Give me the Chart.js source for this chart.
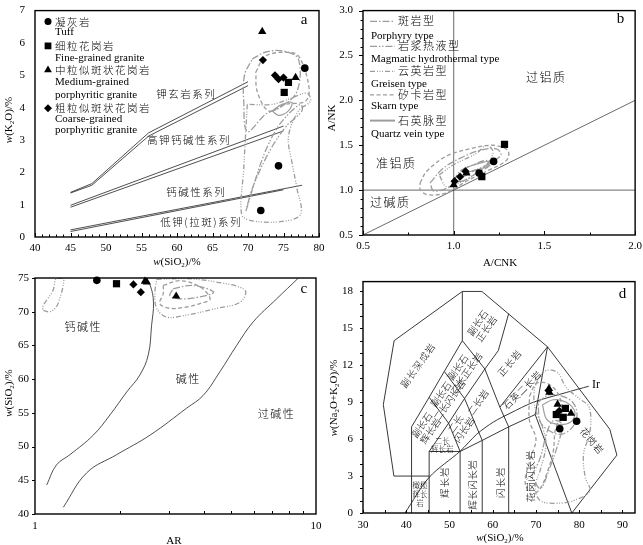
<!DOCTYPE html>
<html>
<head>
<meta charset="utf-8">
<title>granite geochemistry diagrams</title>
<script src="https://cdn.jsdelivr.net/npm/chart.js@4.4.1/dist/chart.umd.min.js"></script>
<style>
  html, body { margin: 0; padding: 0; background: #fff; }
  body { position: relative; width: 643px; height: 545px; overflow: hidden; }
  canvas { position: absolute; }
</style>
</head>
<body>
<canvas id="chartA" width="330" height="276" style="left:0;top:-6px"></canvas>
<canvas id="chartC" width="330" height="280" style="left:0;top:265px"></canvas>
<canvas id="chartB" width="325" height="276" style="left:322px;top:-6px"></canvas>
<canvas id="chartD" width="325" height="280" style="left:322px;top:265px"></canvas>
<script>
const SERIF = '"Liberation Serif", "Times New Roman", serif';
const CJK = '"Noto Sans CJK SC", "Liberation Serif", sans-serif';
const FIELD = '#9d9d9d';
const dashPorphyry = [7, 2, 1.5, 2];
const dashMagma = [7, 2, 1.5, 1.5, 1.5, 2];
const dashGreisen = [5, 2, 1, 1.5, 1, 1.5, 1, 2];
const dashSkarn = [4, 2.5];

// ---- a: w(SiO2) vs w(K2O)
const aTicksX = [40, 45, 50, 55, 60, 65, 70, 75, 80];
const aTicksY = [0, 1, 2, 3, 4, 5, 6, 7];
const aTuff = [[71.8, 0.82], [74.3, 2.2], [78.0, 5.22]];
const aFine = [[75.1, 4.47], [75.7, 4.78]];
const aMedium = [[72.0, 6.35], [76.7, 4.93]];
const aCoarse = [[72.1, 5.47], [73.8, 5.0], [74.3, 4.88], [75.0, 4.93]];
const aShoUp = [[45, 1.38], [48, 1.65], [56, 3.22], [70, 4.8]];
const aShoLo = [[45, 1.36], [48, 1.6], [56, 3.12], [70, 4.68]];
const aHkUp = [[45, 0.98], [75, 3.43]];
const aHkLo = [[45, 0.92], [75, 3.28]];
const aCaUp = [[45, 0.22], [77.6, 1.6]];
const aCaLo = [[45, 0.17], [75, 1.46]];
const aPorphyry = [[70.6, 5.5], [72.5, 5.72], [75, 5.75], [77.1, 5.5], [76.9, 4.5], [74.5, 4.0], [72.5, 3.8], [69.9, 3.26], [69.4, 4.2], [69.5, 5.0], [70.6, 5.5]];
const aSkarn = [[71.1, 5.1], [72.5, 5.6], [76.2, 5.7], [77.4, 5.5], [78.6, 4.6], [78.1, 4.2], [75.3, 4.1], [72.9, 3.9], [71.3, 4.5], [71.1, 5.1]];
const aGreisen = [[69.9, 4.1], [69.4, 2.1], [69.1, 0.7], [70.6, 0.5], [74.8, 0.48], [77.4, 0.7], [76.9, 1.5], [76.2, 2.3], [75.7, 3.1], [77.1, 3.9], [78.8, 4.2], [78.3, 4.45], [76.2, 4.3], [73.4, 4.1], [69.9, 4.1]];
const aMagma = [[69.7, 0.8], [72.0, 2.4], [73.9, 3.3], [75.7, 3.8], [77.4, 4.1], [77.6, 3.9], [75.3, 3.4], [72.9, 2.6], [70.6, 1.5], [69.7, 0.8]];
const aQuartz = [[73.4, 3.9], [74.8, 4.1], [76.2, 4.16], [75.7, 3.9], [74.3, 3.76], [73.4, 3.9]];

// ---- b: A/CNK vs A/NK
const bTicksX = [0.5, 1.0, 1.5, 2.0];
const bTicksY = [0.5, 1.0, 1.5, 2.0, 2.5, 3.0];
const bTuff = [[1.22, 1.32], [1.14, 1.19]];
const bFine = [[1.28, 1.51], [1.155, 1.15]];
const bMedium = [[1.0, 1.06], [1.07, 1.19]];
const bCoarse = [[1.005, 1.10], [1.035, 1.15], [1.065, 1.21]];
const bVert = [[1.0, 0.5], [1.0, 3.0]];
const bHoriz = [[0.5, 1.0], [2.0, 1.0]];
const bDiag = [[0.5, 0.5], [2.0, 2.0]];
const bSkarn = [[0.815, 1.08], [0.851, 1.21], [0.961, 1.38], [1.089, 1.46], [1.217, 1.50], [1.299, 1.44], [1.29, 1.33], [1.18, 1.21], [1.07, 1.10], [0.961, 0.97], [0.851, 0.95], [0.815, 1.01], [0.815, 1.08]];
const bPorphyry = [[0.87, 1.08], [0.94, 1.24], [1.03, 1.35], [1.14, 1.44], [1.235, 1.46], [1.26, 1.39], [1.18, 1.28], [1.07, 1.17], [0.98, 1.04], [0.89, 0.99], [0.87, 1.08]];
const bGreisen = [[0.92, 1.17], [0.997, 1.28], [1.126, 1.41], [1.18, 1.50], [1.217, 1.42], [1.16, 1.24], [1.05, 1.10], [0.96, 1.04], [0.92, 1.17]];
const bMagma = [[1.0, 1.10], [1.034, 1.21], [1.107, 1.28], [1.18, 1.33], [1.2, 1.28], [1.126, 1.19], [1.05, 1.10], [1.0, 1.10]];
const bQuartz = [[1.04, 1.22], [1.08, 1.26], [1.144, 1.30], [1.2, 1.32], [1.18, 1.26], [1.11, 1.22], [1.06, 1.19], [1.04, 1.22]];

// ---- c: AR vs w(SiO2)
const cTicksX = [1, 10];
const cTicksY = [40, 45, 50, 55, 60, 65, 70, 75];
const cTuff = [[1.66, 74.65]];
const cFine = [[1.95, 74.15]];
const cMedium = [[2.46, 74.5], [2.5, 74.4], [3.18, 72.3]];
const cCoarse = [[2.24, 74.05], [2.38, 72.9]];
const cCalcAlk = [[1.10, 44.3], [1.194, 47.3], [1.332, 48.8], [1.613, 51.7], [1.849, 54.7], [2.12, 58.1], [2.36, 60.6], [2.53, 63.6], [2.60, 68.0], [2.64, 71.4], [2.57, 73.9], [2.46, 75]];
const cAlk = [[1.261, 41.0], [1.527, 46.1], [1.953, 48.8], [2.567, 51.7], [3.465, 55.7], [3.97, 57.6], [4.55, 61.1], [5.22, 65.0], [5.98, 68.5], [7.24, 71.9], [8.66, 75.0]];
const cGreisenL = [[1.07, 70.2], [1.13, 70.0], [1.19, 70.7], [1.23, 72.2], [1.26, 73.9], [1.26, 74.9], [1.19, 74.9], [1.16, 73.2], [1.10, 71.7], [1.065, 70.7], [1.07, 70.2]];
const cSkarn = [[2.86, 73.9], [3.28, 74.6], [3.86, 73.7], [4.2, 71.9], [3.86, 71.2], [3.46, 70.7], [3.02, 70.5], [2.78, 71.2], [2.86, 72.7], [2.86, 73.9]];
const cGreisen = [[2.71, 74.8], [3.46, 74.9], [4.43, 74.4], [5.59, 73.2], [5.37, 71.4], [4.43, 70.5], [3.46, 69.5], [2.94, 69.2], [2.71, 70.5], [2.67, 72.7], [2.71, 74.8]];
const cPorphyry = [[3.1, 73.4], [3.65, 73.9], [4.32, 72.9], [3.86, 72.2], [3.28, 71.9], [3.02, 72.4], [3.1, 73.4]];

// ---- d: TAS, w(SiO2) vs w(Na2O+K2O)
const dTicksX = [30, 40, 50, 60, 70, 80, 90];
const dTicksY = [0, 3, 6, 9, 12, 15, 18];
const dTuff = [[79.4, 7.45], [75.5, 6.84]];
const dFine = [[76.8, 8.5], [74.7, 8.0], [76.3, 7.77]];
const dMedium = [[73.0, 10.1], [73.1, 9.8], [75.0, 8.83], [78.1, 8.1]];
const dCoarse = [[72.9, 9.95], [75.4, 8.3]];
const tasOuter = [[41.23, 3], [37.15, 3], [34.7, 8.8], [37.2, 14], [52.97, 18], [57.5, 18], [72.68, 13.5], [87.07, 6.8], [88.71, 4.7], [78.29, 0]];
const tasV41 = [[41.23, 0], [41.23, 7]];
const tasH3 = [[41.23, 3], [45.3, 3]];
const tasFoidLeft = [[41.23, 7], [45.3, 9.4], [48.8, 11.5], [52.97, 14], [52.97, 18]];
const tasFoidRight = [[45.3, 5], [49.8, 7.3], [53.48, 9.3], [58.18, 11.7], [61.3, 13.2], [63.69, 16.2]];
const tasCross1 = [[45.3, 9.4], [49.8, 7.3]];
const tasCross2 = [[48.8, 11.5], [53.48, 9.3]];
const tasCross3 = [[52.97, 14], [58.18, 11.7]];
const tasV45 = [[45.3, 0], [45.3, 5]];
const tasGabbroTop = [[45.3, 5], [52.46, 5]];
const tasV52 = [[52.46, 0], [52.46, 5]];
const tasMonzoBase = [[52.46, 5], [57.57, 5.9], [63.69, 7], [69.82, 8]];
const tasV57 = [[57.57, 0], [57.57, 5.9]];
const tasV63 = [[63.69, 0], [63.69, 7]];
const tasMz1 = [[49.8, 7.3], [52.46, 5]];
const tasMz2 = [[53.48, 9.3], [57.57, 5.9]];
const tasMz3 = [[58.18, 11.7], [61.65, 8.6], [63.69, 7]];
const tasQm = [[61.65, 8.6], [72.68, 13.5]];
const tasGr = [[69.82, 8], [72.68, 13.5]];
const tasGd = [[69.82, 8], [78.29, 0]];
const tasIr = [[39.7, 0], [45.3, 2.9], [52.4, 5.0], [56.3, 6.4], [60.2, 7.4], [64, 8.1], [69.4, 9.0], [77.1, 9.8], [82.2, 10.3]];
const dGreisen = [[70.6, 11.0], [72.5, 11.6], [75, 11.4], [77, 10.2], [80, 9.3], [82.3, 8.6], [82.5, 6.6], [81, 4.8], [81.4, 2.9], [82.5, 1.8], [79.4, 1.1], [75.6, 0.8], [71, 1.0], [69.8, 2.1], [71, 3.5], [72.3, 5.5], [71.5, 7], [69.8, 8.5], [69.6, 10], [70.6, 11.0]];
const dSkarn = [[68.5, 9.5], [70, 10.5], [72, 10.6], [74, 10.2], [75.5, 9.4], [76, 8.2], [74.5, 6.8], [74, 5.0], [72.8, 3.5], [71, 2.0], [69, 1.5], [67.5, 2.5], [68.8, 4.5], [70, 6], [68.5, 7.5], [68.5, 9.5]];
const dPorphyry = [[70.5, 9.0], [73, 9.6], [76, 9.5], [78.5, 9.0], [79.5, 8.0], [78.5, 7.0], [76, 6.4], [73.5, 6.6], [71, 7.4], [70.5, 9.0]];
const dMagma = [[69, 3.0], [71, 4.5], [72.5, 6.5], [74, 7.5], [76, 7.2], [75, 5.5], [73, 3.5], [71, 2.0], [69, 3.0]];
const dQuartz = [[71.5, 8.8], [74, 9.2], [77, 9.0], [79, 8.2], [78, 7.4], [75, 7.2], [72.5, 7.6], [71.5, 8.8]];

function P(arr) { return arr.map(function (p) { return { x: p[0], y: p[1] }; }); }

function markers(arr, style, r) {
  return { data: P(arr), pointStyle: style, pointRadius: r, pointHoverRadius: r, backgroundColor: '#000',
    borderColor: '#000', borderWidth: 0, showLine: false, order: 0, clip: false };
}
function path(arr, o) {
  o = o || {};
  return { data: P(arr), showLine: true, pointRadius: 0, pointHoverRadius: 0, fill: false,
    borderColor: o.color || '#222', borderWidth: o.width || 0.9, borderDash: o.dash || [],
    tension: o.tension || 0, order: o.order || 2 };
}
function field(arr, dash, width) {
  return path(arr, { color: FIELD, width: width || 1.3, dash: dash, tension: 0.35, order: 1 });
}
function samples(tuff, fine, medium, coarse) {
  return [markers(tuff, 'circle', 3.8), markers(fine, 'rect', 5.1), markers(medium, 'triangle', 4.8), markers(coarse, 'rectRot', 4.1)];
}

function axis(o) {
  return {
    type: o.type || 'linear', min: o.min, max: o.max, position: o.pos,
    grid: { display: false, drawTicks: false }, border: { display: false },
    afterBuildTicks: function (ax) { ax.ticks = o.ticks.map(function (v) { return { value: v }; }); },
    afterFit: function (ax) { if (o.pos === 'left') ax.width = o.size; else ax.height = o.size; },
    ticks: { color: '#000', font: { family: SERIF, size: 11 }, padding: o.padding, maxRotation: 0, autoSkip: false,
      callback: o.fmt || function (v) { return String(v); } }
  };
}

function build(id, sx, sy, pad, datasets, deco) {
  return new Chart(document.getElementById(id), {
    type: 'scatter',
    data: { datasets: datasets },
    options: {
      responsive: false, animation: false, events: [],
      layout: { padding: pad },
      plugins: { legend: { display: false }, tooltip: { enabled: false } },
      scales: { x: sx, y: sy }
    },
    plugins: [{ id: 'deco', afterDatasetsDraw: function (chart) { deco(chart, chart.ctx); } }]
  });
}

// ---- drawing helpers
function px(chart, x, y) { return [chart.scales.x.getPixelForValue(x), chart.scales.y.getPixelForValue(y)]; }

function text(ctx, x, y, str, o) {
  o = o || {};
  const size = o.size || 11;
  const isCjk = !o.font;
  ctx.save();
  ctx.translate(x, y);
  if (o.rot) ctx.rotate(o.rot * Math.PI / 180);
  ctx.font = (isCjk ? '300 ' : '') + size + 'px ' + (o.font || CJK);
  ctx.letterSpacing = (o.ls || 0) + 'px';
  ctx.fillStyle = '#000';
  ctx.textAlign = o.align || 'center';
  ctx.textBaseline = 'middle';
  const lines = str.split('\n');
  const lh = o.lh || size * 1.1;
  lines.forEach(function (ln, i) { ctx.fillText(ln, 0, (i - (lines.length - 1) / 2) * lh); });
  ctx.restore();
}
function note(chart, x, y, str, o) {
  const p = px(chart, x, y);
  text(chart.ctx, p[0], p[1], str, o);
}

function rich(ctx, parts, cx, cy, rot, size) {
  const fonts = { n: size + 'px ' + SERIF, i: 'italic ' + size + 'px ' + SERIF, s: Math.round(size * 0.68) + 'px ' + SERIF };
  ctx.save();
  ctx.translate(cx, cy);
  if (rot) ctx.rotate(rot);
  let w = 0;
  parts.forEach(function (p) { ctx.font = fonts[p[1]]; w += ctx.measureText(p[0]).width; });
  let x = -w / 2;
  ctx.fillStyle = '#000';
  ctx.textAlign = 'left';
  ctx.textBaseline = 'alphabetic';
  parts.forEach(function (p) {
    ctx.font = fonts[p[1]];
    ctx.fillText(p[0], x, p[1] === 's' ? size * 0.55 : size * 0.35);
    x += ctx.measureText(p[0]).width;
  });
  ctx.restore();
}

function frame(chart, ctx) {
  const a = chart.chartArea;
  ctx.save();
  ctx.strokeStyle = '#000';
  ctx.lineWidth = 1.4;
  ctx.strokeRect(a.left, a.top, a.right - a.left, a.bottom - a.top);
  ctx.restore();
}
function marksX(chart, ctx, vals, len) {
  const a = chart.chartArea, s = chart.scales.x;
  ctx.save(); ctx.strokeStyle = '#000'; ctx.lineWidth = 1; ctx.beginPath();
  vals.forEach(function (v) {
    const p = Math.round(s.getPixelForValue(v)) + 0.5;
    ctx.moveTo(p, a.bottom); ctx.lineTo(p, a.bottom - len);
  });
  ctx.stroke(); ctx.restore();
}
function marksY(chart, ctx, vals, len) {
  const a = chart.chartArea, s = chart.scales.y;
  ctx.save(); ctx.strokeStyle = '#000'; ctx.lineWidth = 1; ctx.beginPath();
  vals.forEach(function (v) {
    const p = Math.round(s.getPixelForValue(v)) + 0.5;
    ctx.moveTo(a.left, p); ctx.lineTo(a.left - len, p);
  });
  ctx.stroke(); ctx.restore();
}
function range(from, to, step) {
  const out = [];
  for (let v = from; v <= to + 1e-9; v += step) out.push(Math.round(v * 1000) / 1000);
  return out;
}

const SIO2 = [['w', 'i'], ['(SiO', 'n'], ['2', 's'], [')/%', 'n']];

// ---- panel a
build('chartA',
  axis({ min: 40, max: 80, pos: 'bottom', ticks: aTicksX, size: 33, padding: 5 }),
  axis({ min: 0, max: 7, pos: 'left', ticks: aTicksY, size: 35, padding: 10 }),
  { top: 10, right: 11, left: 0, bottom: 0 },
  samples(aTuff, aFine, aMedium, aCoarse).concat([
    path(aShoUp, { width: 0.8 }), path(aShoLo, { width: 0.8 }),
    path(aHkUp, { width: 0.8 }), path(aHkLo, { width: 0.8 }),
    path(aCaUp, { width: 0.8 }), path(aCaLo, { width: 0.8 }),
    field(aPorphyry, dashPorphyry), field(aSkarn, dashSkarn), field(aGreisen, dashGreisen),
    field(aMagma, dashMagma), field(aQuartz, [], 1.2)
  ]),
  function (chart, ctx) {
    frame(chart, ctx);
    marksX(chart, ctx, range(40, 80, 1), 2.5);
    marksX(chart, ctx, aTicksX, 4);
    note(chart, 61.3, 4.43, '钾玄岩系列', { size: 10.5, ls: 1.5 });
    note(chart, 61.7, 3.0, '高钾钙碱性系列', { size: 10.5, ls: 1.5 });
    note(chart, 62.7, 1.4, '钙碱性系列', { size: 10.5, ls: 1.5 });
    note(chart, 63.4, 0.45, '低钾(拉斑)系列', { size: 10.5, ls: 1.5 });
    note(chart, 77.9, 6.72, 'a', { size: 15, font: SERIF });
    const a = chart.chartArea;
    const mx = a.left + 13, tx = a.left + 20, y0 = a.top - 4;
    const rows = [
      ['circle', 3.5, '凝灰岩', ['Tuff']],
      ['rect', 4.8, '细粒花岗岩', ['Fine-grained granite']],
      ['triangle', 4.5, '中粒似斑状花岗岩', ['Medium-grained', 'porphyritic granite']],
      ['rectRot', 4, '粗粒似斑状花岗岩', ['Coarse-grained', 'porphyritic granite']]
    ];
    const ys = [[15, 26], [39.3, 51.7], [63.3, 76, 88.3], [101.7, 112.7, 124]];
    ctx.save();
    ctx.fillStyle = '#000';
    rows.forEach(function (r, i) {
      Chart.helpers.drawPoint(ctx, { pointStyle: r[0], radius: r[1], borderWidth: 0, rotation: 0 }, mx, y0 + ys[i][0]);
      text(ctx, tx, y0 + ys[i][0], r[2], { size: 10.5, ls: 1.5, align: 'left' });
      r[3].forEach(function (ln, j) { text(ctx, tx, y0 + ys[i][j + 1], ln, { size: 11, font: SERIF, align: 'left' }); });
    });
    ctx.restore();
    rich(ctx, [['w', 'i'], ['(K', 'n'], ['2', 's'], ['O)/%', 'n']], 8, 126, -Math.PI / 2, 11);
    rich(ctx, SIO2, 177, 267, 0, 11);
  });

// ---- panel b
build('chartB',
  axis({ min: 0.5, max: 2.0, pos: 'bottom', ticks: bTicksX, size: 35, padding: 5, fmt: function (v) { return v.toFixed(1); } }),
  axis({ min: 0.5, max: 3.0, pos: 'left', ticks: bTicksY, size: 41, padding: 10, fmt: function (v) { return v.toFixed(1); } }),
  { top: 11, right: 11, left: 0, bottom: 0 },
  samples(bTuff, bFine, bMedium, bCoarse).concat([
    path(bVert, { width: 0.8, color: '#444' }), path(bHoriz, { width: 0.8, color: '#444' }), path(bDiag, { width: 0.8, color: '#444' }),
    field(bSkarn, dashSkarn), field(bPorphyry, dashPorphyry), field(bGreisen, dashGreisen),
    field(bMagma, dashMagma), field(bQuartz, [], 1.2)
  ]),
  function (chart, ctx) {
    frame(chart, ctx);
    marksX(chart, ctx, range(0.5, 2.0, 0.25), 2.5);
    marksX(chart, ctx, bTicksX, 4);
    marksY(chart, ctx, range(0.5, 3.0, 0.1), 2.5);
    marksY(chart, ctx, bTicksY, 4);
    note(chart, 1.51, 2.26, '过铝质', { size: 12, ls: 1.5 });
    note(chart, 0.683, 1.30, '准铝质', { size: 12, ls: 1.5 });
    note(chart, 0.65, 0.86, '过碱质', { size: 12, ls: 1.5 });
    note(chart, 1.92, 2.91, 'b', { size: 15, font: SERIF });
    const a = chart.chartArea;
    const lx0 = a.left + 7, lx1 = a.left + 32, tx = a.left + 35, ex = a.left + 8, y0 = a.top - 5;
    const items = [
      [dashPorphyry, 1.3, '斑岩型', 'Porphyry type', 15.7, 30.7],
      [dashMagma, 1.3, '岩浆热液型', 'Magmatic hydrothermal type', 40.7, 53.3],
      [dashGreisen, 1.3, '云英岩型', 'Greisen type', 65.7, 79],
      [dashSkarn, 1.3, '矽卡岩型', 'Skarn type', 89.3, 101],
      [[], 2, '石英脉型', 'Quartz vein type', 115, 128.3]
    ];
    items.forEach(function (it) {
      ctx.save();
      ctx.strokeStyle = FIELD;
      ctx.lineWidth = it[1];
      ctx.setLineDash(it[0]);
      ctx.beginPath();
      ctx.moveTo(lx0, y0 + it[4]);
      ctx.lineTo(lx1, y0 + it[4]);
      ctx.stroke();
      ctx.restore();
      text(ctx, tx, y0 + it[4], it[2], { size: 11, ls: 1.5, align: 'left' });
      text(ctx, ex, y0 + it[5], it[3], { size: 11, font: SERIF, align: 'left' });
    });
    rich(ctx, [['A/NK', 'n']], 9, 124, -Math.PI / 2, 11);
    rich(ctx, [['A/CNK', 'n']], 178, 268, 0, 11);
  });

// ---- panel c
build('chartC',
  axis({ type: 'logarithmic', min: 1, max: 10, pos: 'bottom', ticks: cTicksX, size: 31, padding: 6 }),
  axis({ min: 40, max: 75, pos: 'left', ticks: cTicksY, size: 35, padding: 6 }),
  { top: 13, right: 14, left: 0, bottom: 0 },
  samples(cTuff, cFine, cMedium, cCoarse).concat([
    path(cCalcAlk, { width: 0.8, tension: 0.4 }), path(cAlk, { width: 0.8, tension: 0.4 }),
    field(cGreisenL, dashGreisen), field(cSkarn, dashSkarn), field(cGreisen, dashGreisen), field(cPorphyry, dashPorphyry)
  ]),
  function (chart, ctx) {
    frame(chart, ctx);
    marksX(chart, ctx, [2, 3, 4, 5, 6, 7, 8, 9], 3);
    marksY(chart, ctx, cTicksY, 3);
    note(chart, 1.486, 67.7, '钙碱性', { size: 11, ls: 1.5 });
    note(chart, 3.51, 60.0, '碱性', { size: 11, ls: 1.5 });
    note(chart, 7.24, 54.9, '过碱性', { size: 11, ls: 1.5 });
    note(chart, 9.06, 73.3, 'c', { size: 15, font: SERIF });
    rich(ctx, SIO2, 8, 128, -Math.PI / 2, 11);
    rich(ctx, [['AR', 'n']], 174, 275, 0, 11);
  });

// ---- panel d
const tasLines = [tasOuter, tasV41, tasH3, tasFoidLeft, tasFoidRight, tasCross1, tasCross2, tasCross3, tasV45,
  tasGabbroTop, tasV52, tasMonzoBase, tasV57, tasV63, tasMz1, tasMz2, tasMz3, tasQm, tasGr, tasGd];
build('chartD',
  axis({ min: 30, max: 92.9, pos: 'bottom', ticks: dTicksX, size: 32, padding: 6 }),
  axis({ min: 0, max: 18.8, pos: 'left', ticks: dTicksY, size: 41, padding: 10 }),
  { top: 13, right: 12, left: 0, bottom: 0 },
  samples(dTuff, dFine, dMedium, dCoarse).concat(
    tasLines.map(function (l) { return path(l, { width: 0.9 }); }),
    [path(tasIr, { width: 0.9, tension: 0.3 }),
     field(dGreisen, dashGreisen), field(dSkarn, dashSkarn), field(dPorphyry, dashPorphyry),
     field(dMagma, dashMagma), field(dQuartz, [], 1.2)]
  ),
  function (chart, ctx) {
    frame(chart, ctx);
    marksX(chart, ctx, range(30, 90, 5), 3);
    marksY(chart, ctx, range(0, 18, 1), 3);
    const s = 9.5, r = -55;
    note(chart, 42.7, 12.0, '副长深成岩', { size: s, rot: r, ls: 1 });
    note(chart, 57.5, 15.2, '副长石\n正长岩', { size: s, rot: r });
    note(chart, 52.9, 11.6, '副长石\n二长正长岩', { size: s, rot: r });
    note(chart, 49.0, 9.4, '副长石\n二长闪长岩', { size: s, rot: r });
    note(chart, 44.6, 6.9, '副长石\n辉长岩', { size: s, rot: r });
    note(chart, 56.6, 9.0, '二长岩', { size: s, rot: r });
    note(chart, 52.4, 7.0, '二长\n闪长岩', { size: s, rot: r });
    note(chart, 48.3, 5.5, '二长\n辉长岩', { size: 7.5 });
    note(chart, 63.9, 12.2, '正长岩', { size: s, rot: -50, ls: 1 });
    note(chart, 66.8, 10.0, '石英二长岩', { size: s, rot: -45, ls: 0.5 });
    note(chart, 83.0, 5.85, '花岗岩', { size: s, rot: 50, ls: 1 });
    note(chart, 68.6, 3.0, '花岗闪长岩', { size: s, rot: -90, ls: 1 });
    note(chart, 61.7, 2.5, '闪长岩', { size: s, rot: -90, ls: 1 });
    note(chart, 55.2, 2.3, '辉长闪长岩', { size: s, rot: -90, ls: 0.5 });
    note(chart, 48.8, 2.5, '辉长岩', { size: s, rot: -90, ls: 1 });
    note(chart, 43.2, 1.5, '橄榄\n辉长\n岩', { size: 7.5, lh: 9 });
    note(chart, 83.9, 10.4, 'Ir', { size: 12, font: SERIF });
    note(chart, 90.0, 17.8, 'd', { size: 15, font: SERIF });
    rich(ctx, [['w', 'i'], ['(Na', 'n'], ['2', 's'], ['O+K', 'n'], ['2', 's'], ['O)/%', 'n']], 11, 133, -Math.PI / 2, 11);
    rich(ctx, SIO2, 178, 272, 0, 11);
  });
</script>
</body>
</html>
